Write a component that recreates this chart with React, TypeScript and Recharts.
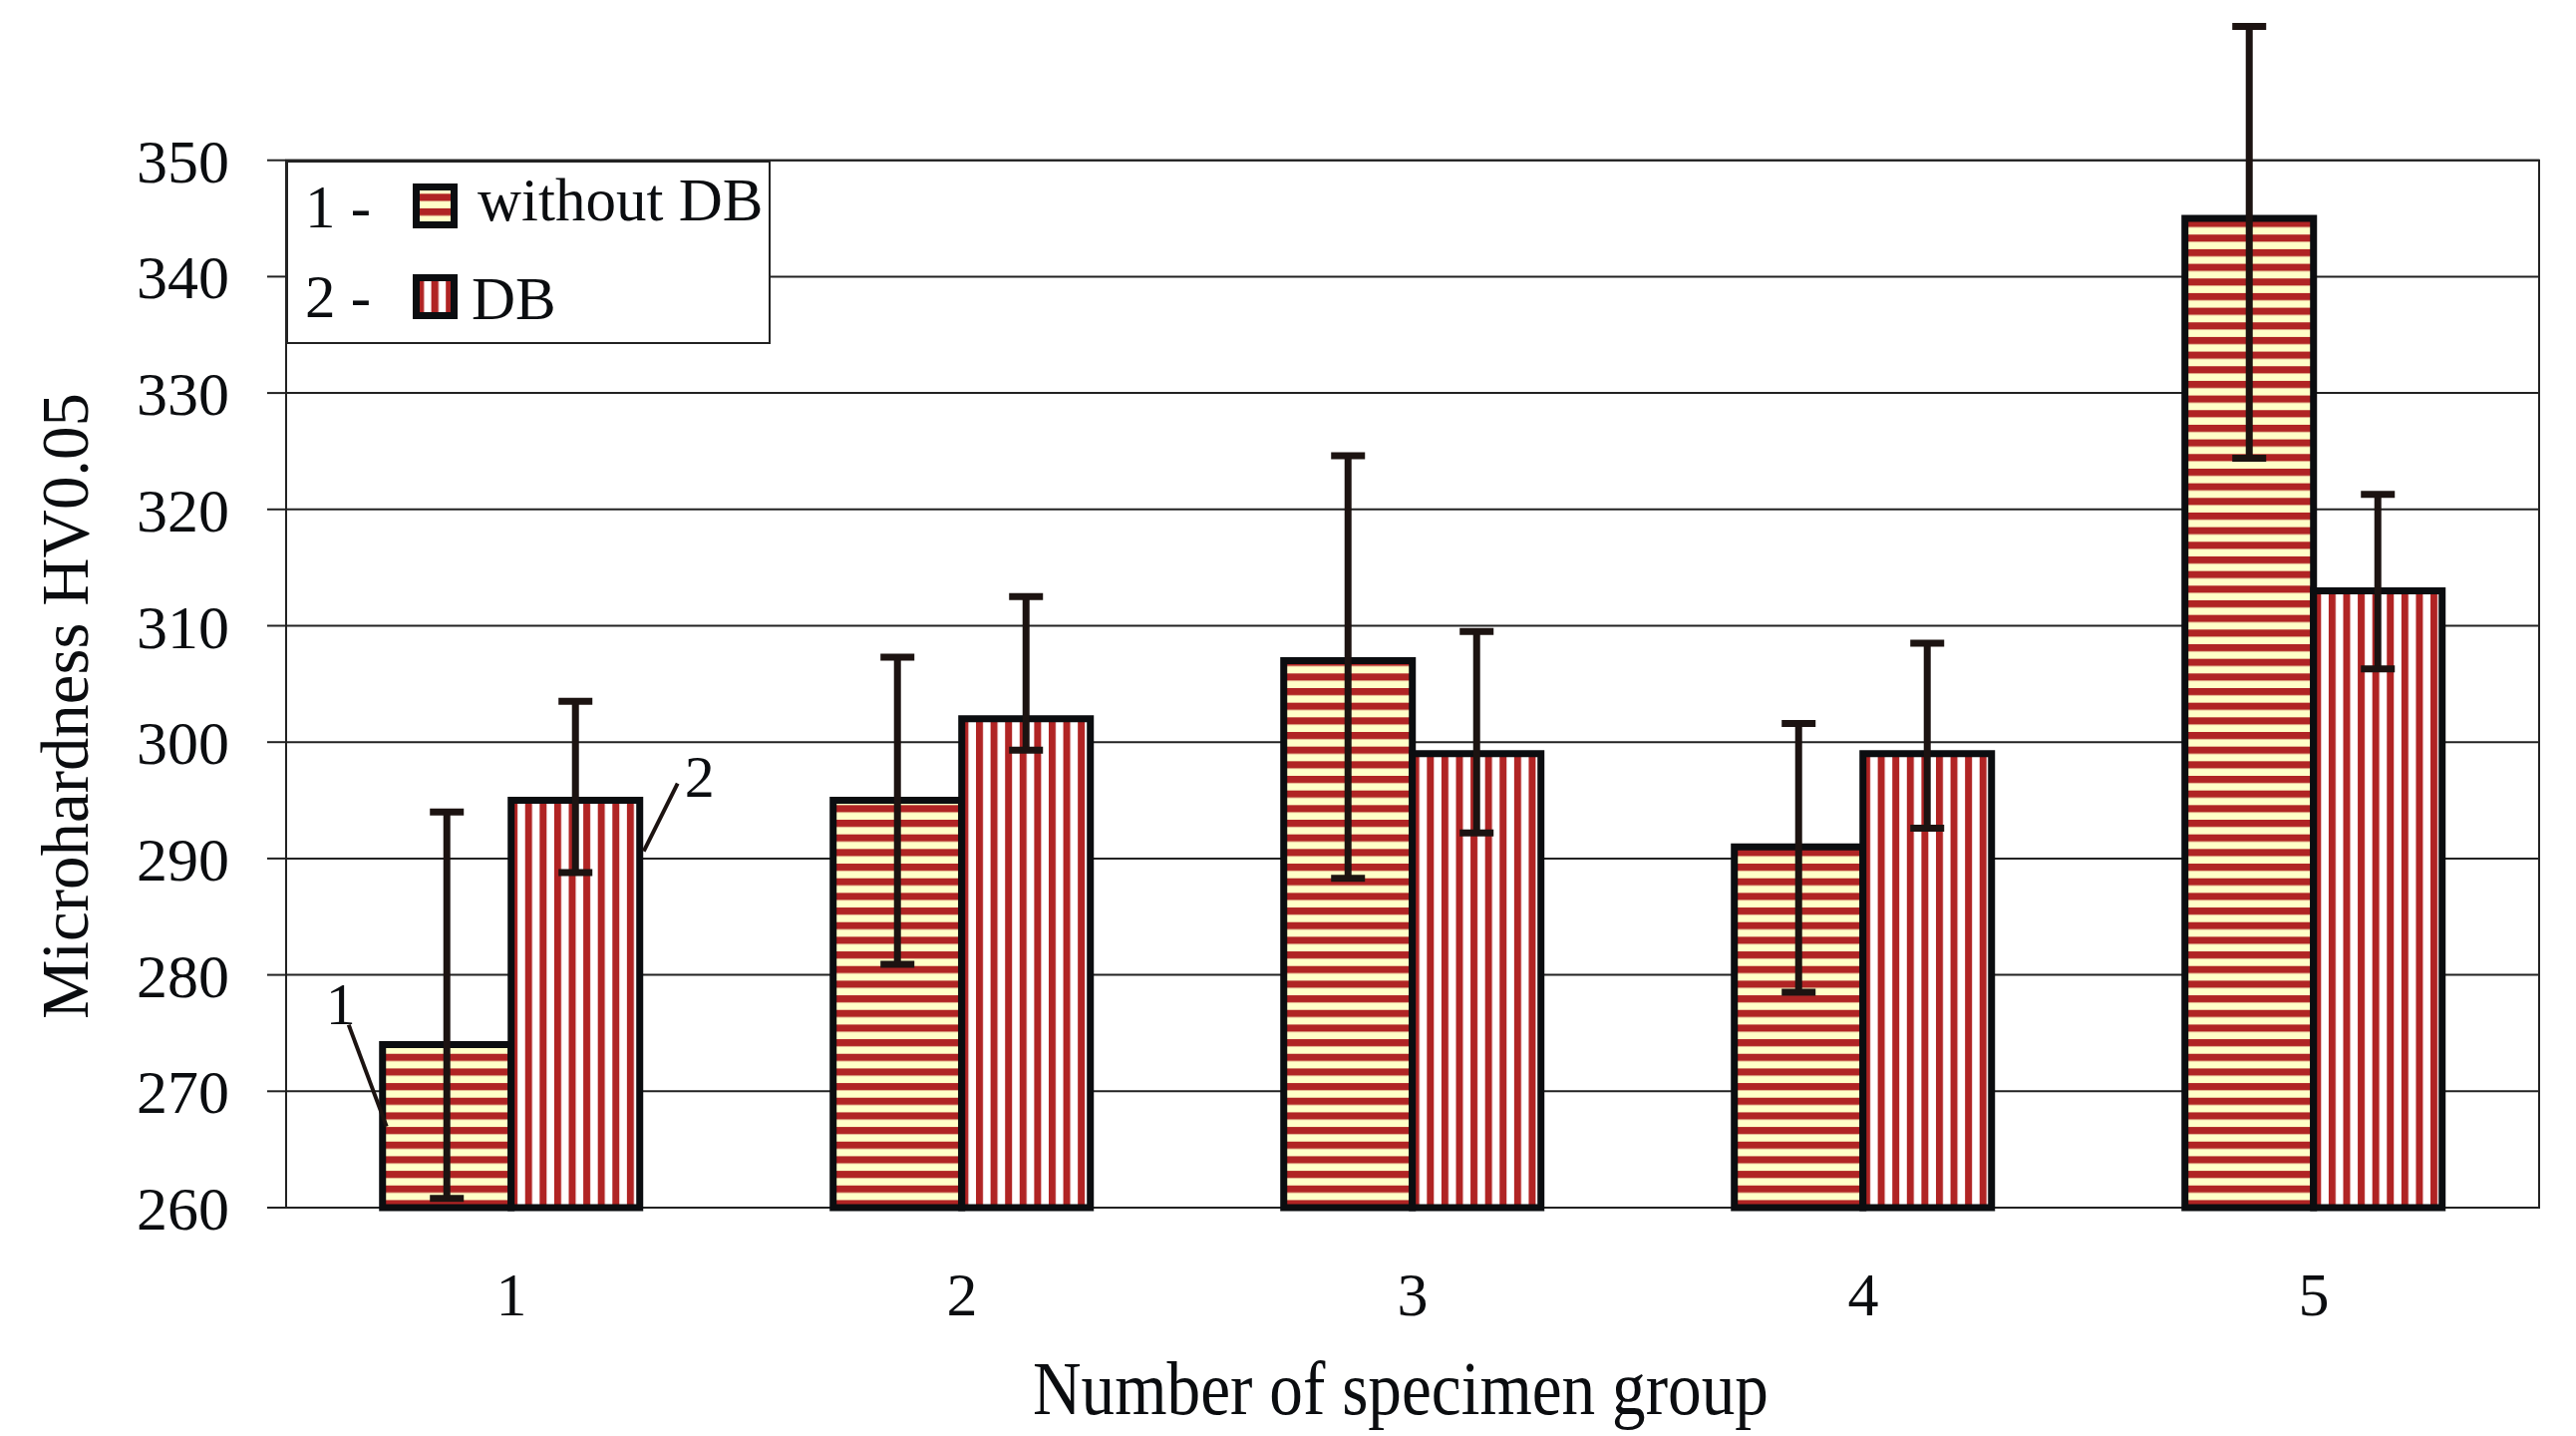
import React from 'react';
import {
  BarChart,
  Bar,
  XAxis,
  YAxis,
  CartesianGrid,
  ErrorBar,
  Legend,
  ReferenceArea,
  Label,
  LabelList,
} from 'recharts';

// ---------- data ----------
const categories = ['1', '2', '3', '4', '5'];
const withoutDB = [274, 295, 307, 291, 345];
const withDB = [295, 302, 299, 299, 313];
const withoutDBErrLow = [13.2, 14.1, 18.7, 12.5, 20.6];
const withoutDBErrHigh = [20.0, 12.3, 17.6, 10.6, 16.5];
const withDBErrLow = [6.2, 2.7, 6.8, 6.4, 6.7];
const withDBErrHigh = [8.5, 10.5, 10.5, 9.5, 8.3];
const yTicks = [260, 270, 280, 290, 300, 310, 320, 330, 340, 350];
const yDomain = [260, 362];
const seriesNames = ['without DB', 'DB'];
const seriesNumbers = ['1', '2'];
const xTitle = 'Number of specimen group';
const yTitle = 'Microhardness HV0.05';

const data = categories.map((c, i) => ({
  group: c,
  withoutDB: withoutDB[i],
  withDB: withDB[i],
  errWithout: [withoutDBErrLow[i], withoutDBErrHigh[i]],
  errWith: [withDBErrLow[i], withDBErrHigh[i]],
}));

// ---------- styles ----------
const FONT = 'Liberation Serif, Times New Roman, serif';
const INK = '#0b0d10';
const ERR = '#1c1311';
const RED = '#b02424';
const CREAM = '#ffffc8';
const GRID = '#222222';

const getBox = (props: any) => {
  const vb = props && props.viewBox ? props.viewBox : props;
  return { x: Number(vb.x), y: Number(vb.y), w: Number(vb.width), h: Number(vb.height) };
};

const gridGenerator = (props: any) => {
  const yAxis = props && props.yAxis;
  if (yAxis && typeof yAxis.scale === 'function') {
    return yTicks.map((t) => yAxis.scale(t));
  }
  const off = props.offset;
  return yTicks.map((t) => off.top + (off.height * (yDomain[1] - t)) / (yDomain[1] - yDomain[0]));
};

const Anno1 = (props: any) => {
  if (props.index !== 0) return null;
  const { x, y } = getBox(props);
  return (
    <g>
      <line x1={x - 34} y1={y - 20} x2={x + 4} y2={y + 82} stroke={ERR} strokeWidth={4} />
      <text x={x - 42} y={y - 21} textAnchor="middle" fontFamily={FONT} fontSize={60} fill={INK}>
        {seriesNumbers[0]}
      </text>
    </g>
  );
};

const Anno2 = (props: any) => {
  if (props.index !== 0) return null;
  const { x, y, w } = getBox(props);
  const xr = x + w;
  return (
    <g>
      <line x1={xr + 38} y1={y - 17} x2={xr + 4} y2={y + 51} stroke={ERR} strokeWidth={4} />
      <text x={xr + 60} y={y - 4} textAnchor="middle" fontFamily={FONT} fontSize={60} fill={INK}>
        {seriesNumbers[1]}
      </text>
    </g>
  );
};

const XTitle = () => (
  <text
    x={1405}
    y={1418}
    textAnchor="middle"
    fontFamily={FONT}
    fontSize={76}
    fill={INK}
    textLength={738}
    lengthAdjust="spacingAndGlyphs"
  >
    {xTitle}
  </text>
);

const YTitle = () => (
  <text
    x={88}
    y={708}
    transform="rotate(-90, 88, 708)"
    textAnchor="middle"
    fontFamily={FONT}
    fontSize={68}
    fill={INK}
    textLength={628}
    lengthAdjust="spacingAndGlyphs"
  >
    {yTitle}
  </text>
);

const renderLegend = () => (
  <div
    style={{
      width: 486,
      height: 184,
      boxSizing: 'border-box',
      border: `2px solid ${GRID}`,
      background: '#ffffff',
    }}
  >
    <svg width={482} height={180} style={{ display: 'block' }}>
      <defs>
        <pattern id="lgH" patternUnits="userSpaceOnUse" x={0} y={31.3} width={20} height={14.6}>
          <rect width={20} height={14.6} fill={CREAM} />
          <rect width={20} height={7.3} fill={RED} />
        </pattern>
        <pattern id="lgV" patternUnits="userSpaceOnUse" x={129} y={0} width={14.6} height={20}>
          <rect width={14.6} height={20} fill="#ffffff" />
          <rect width={7.3} height={20} fill={RED} />
        </pattern>
      </defs>
      <text x={17} y={65} fontFamily={FONT} fontSize={61} fill={INK}>
        {seriesNumbers[0] + ' -'}
      </text>
      <rect x={128.5} y={24.5} width={38} height={38} fill="url(#lgH)" stroke={INK} strokeWidth={7} />
      <text x={190} y={58} fontFamily={FONT} fontSize={61} fill={INK}>
        {seriesNames[0]}
      </text>
      <text x={17} y={155} fontFamily={FONT} fontSize={61} fill={INK}>
        {seriesNumbers[1] + ' -'}
      </text>
      <rect x={128.5} y={115.5} width={38} height={38} fill="url(#lgV)" stroke={INK} strokeWidth={7} />
      <text x={184} y={157} fontFamily={FONT} fontSize={61} fill={INK}>
        {seriesNames[1]}
      </text>
    </svg>
  </div>
);

export default function App() {
  return (
    <div
      style={{
        position: 'absolute',
        left: 0,
        top: 0,
        width: 2584,
        height: 1440,
        background: '#ffffff',
        fontFamily: FONT,
      }}
    >
      <BarChart
        width={2584}
        height={1440}
        data={data}
        margin={{ top: 20.66, right: 37, bottom: 0, left: 0 }}
        barCategoryGap="21.4%"
        barGap={0}
        style={{ fontFamily: FONT }}
      >
        <defs>
          <pattern id="hStripe" patternUnits="userSpaceOnUse" x={0} y={0.5} width={40} height={14.67}>
            <rect width={40} height={14.67} fill={CREAM} />
            <rect width={40} height={7.2} fill={RED} />
          </pattern>
          <pattern id="vStripe" patternUnits="userSpaceOnUse" x={1.5} y={0} width={14.59} height={40}>
            <rect width={14.59} height={40} fill="#ffffff" />
            <rect width={7} height={40} fill={RED} />
          </pattern>
        </defs>
        <CartesianGrid
          vertical={false}
          stroke={GRID}
          strokeWidth={2}
          horizontalCoordinatesGenerator={gridGenerator}
        />
        <ReferenceArea
          y1={yTicks[0]}
          y2={yTicks[yTicks.length - 1]}
          fill="none"
          fillOpacity={0}
          stroke={GRID}
          strokeWidth={2}
          ifOverflow="visible"
        />
        <XAxis
          dataKey="group"
          height={229}
          axisLine={false}
          tickLine={false}
          tickSize={0}
          tickMargin={64}
          tick={{ fontSize: 62, fill: INK, fontFamily: FONT }}
          interval={0}
        >
          <Label content={XTitle} />
        </XAxis>
        <YAxis
          type="number"
          domain={yDomain}
          ticks={yTicks}
          interval={0}
          width={287}
          axisLine={false}
          tickLine={{ stroke: GRID, strokeWidth: 2 }}
          tickSize={19}
          tickMargin={38}
          tick={{ fontSize: 62, fill: INK, fontFamily: FONT }}
        >
          <Label content={YTitle} />
        </YAxis>
        <Legend
          content={renderLegend}
          layout="vertical"
          align="center"
          verticalAlign="middle"
          wrapperStyle={{ left: 287, top: 161, width: 486, height: 184, margin: 0, padding: 0 }}
        />
        <Bar
          dataKey="withoutDB"
          name={seriesNames[0]}
          fill="url(#hStripe)"
          stroke={INK}
          strokeWidth={7}
          isAnimationActive={false}
        >
          <ErrorBar dataKey="errWithout" width={17} stroke={ERR} strokeWidth={7} isAnimationActive={false} />
          <LabelList content={Anno1} />
        </Bar>
        <Bar
          dataKey="withDB"
          name={seriesNames[1]}
          fill="url(#vStripe)"
          stroke={INK}
          strokeWidth={7}
          isAnimationActive={false}
        >
          <ErrorBar dataKey="errWith" width={17} stroke={ERR} strokeWidth={7} isAnimationActive={false} />
          <LabelList content={Anno2} />
        </Bar>
      </BarChart>
    </div>
  );
}
